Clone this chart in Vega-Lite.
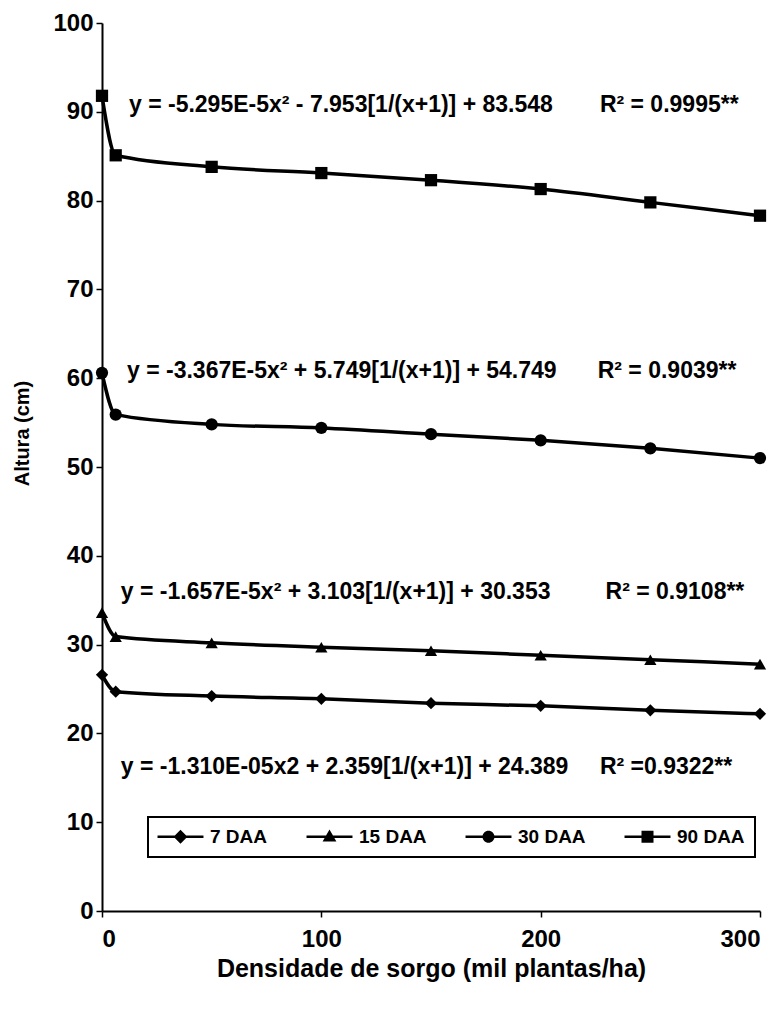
{
  "$schema": "https://vega.github.io/schema/vega-lite/v6.json",
  "width": 658,
  "height": 888,
  "autosize": {"type": "none"},
  "padding": {"left": 102, "top": 23, "right": 24, "bottom": 98},
  "background": "white",
  "config": {
    "view": {"stroke": null},
    "font": "Liberation Sans",
    "legend": {"strokeWidth": 2},
    "axis": {"grid": false, "domainColor": "black", "domainWidth": 2, "tickColor": "black", "tickWidth": 1.5, "tickSize": 6, "labelColor": "black", "titleColor": "black", "labelFont": "Liberation Sans", "titleFont": "Liberation Sans", "labelFontWeight": "bold", "titleFontWeight": "bold", "labelFontSize": 24, "titleFontSize": 20, "titleLimit": 1000},
    "axisX": {"titleFontSize": 25}
  },
  "datasets": {
    "obs": [
      {"serie": "90 DAA", "x": 0, "y": 91.8},
      {"serie": "90 DAA", "x": 6.25, "y": 85.1},
      {"serie": "90 DAA", "x": 50, "y": 83.8},
      {"serie": "90 DAA", "x": 100, "y": 83.1},
      {"serie": "90 DAA", "x": 150, "y": 82.3},
      {"serie": "90 DAA", "x": 200, "y": 81.3},
      {"serie": "90 DAA", "x": 250, "y": 79.8},
      {"serie": "90 DAA", "x": 300, "y": 78.3},
      {"serie": "30 DAA", "x": 0, "y": 60.6},
      {"serie": "30 DAA", "x": 6.25, "y": 55.9},
      {"serie": "30 DAA", "x": 50, "y": 54.8},
      {"serie": "30 DAA", "x": 100, "y": 54.4},
      {"serie": "30 DAA", "x": 150, "y": 53.7},
      {"serie": "30 DAA", "x": 200, "y": 53.0},
      {"serie": "30 DAA", "x": 250, "y": 52.1},
      {"serie": "30 DAA", "x": 300, "y": 51.0},
      {"serie": "15 DAA", "x": 0, "y": 33.6},
      {"serie": "15 DAA", "x": 6.25, "y": 30.9},
      {"serie": "15 DAA", "x": 50, "y": 30.2},
      {"serie": "15 DAA", "x": 100, "y": 29.7},
      {"serie": "15 DAA", "x": 150, "y": 29.3},
      {"serie": "15 DAA", "x": 200, "y": 28.8},
      {"serie": "15 DAA", "x": 250, "y": 28.3},
      {"serie": "15 DAA", "x": 300, "y": 27.8},
      {"serie": "7 DAA", "x": 0, "y": 26.6},
      {"serie": "7 DAA", "x": 6.25, "y": 24.7},
      {"serie": "7 DAA", "x": 50, "y": 24.2},
      {"serie": "7 DAA", "x": 100, "y": 23.9},
      {"serie": "7 DAA", "x": 150, "y": 23.4},
      {"serie": "7 DAA", "x": 200, "y": 23.1},
      {"serie": "7 DAA", "x": 250, "y": 22.6},
      {"serie": "7 DAA", "x": 300, "y": 22.2}
    ],
    "eq": [
      {"x": 12.3, "y": 90.8, "label": "y = -5.295E-5x² - 7.953[1/(x+1)] + 83.548"},
      {"x": 227, "y": 90.8, "label": "R² = 0.9995**"},
      {"x": 11.4, "y": 60.8, "label": "y = -3.367E-5x² + 5.749[1/(x+1)] + 54.749"},
      {"x": 226, "y": 60.8, "label": "R² = 0.9039**"},
      {"x": 8.6, "y": 35.9, "label": "y = -1.657E-5x² + 3.103[1/(x+1)] + 30.353"},
      {"x": 229.6, "y": 35.9, "label": "R² = 0.9108**"},
      {"x": 8.6, "y": 16.2, "label": "y = -1.310E-05x2 + 2.359[1/(x+1)] + 24.389"},
      {"x": 227, "y": 16.2, "label": "R² =0.9322**"}
    ]
  },
  "layer": [
    {
      "data": {"name": "obs"},
      "mark": {"type": "line", "color": "black", "strokeWidth": 3.5, "interpolate": "monotone"},
      "encoding": {
        "x": {"field": "x", "type": "quantitative", "scale": {"domain": [0, 300], "nice": false}, "axis": {"values": [0, 100, 200, 300], "title": "Densidade de sorgo (mil plantas/ha)", "titlePadding": 5, "labelPadding": 10}},
        "y": {"field": "y", "type": "quantitative", "scale": {"domain": [0, 100], "nice": false}, "axis": {"values": [0, 10, 20, 30, 40, 50, 60, 70, 80, 90, 100], "title": "Altura (cm)", "titleFontSize": 20, "titleLimit": 1000, "titleAngle": 270, "titleY": 410, "titlePadding": 20, "labelPadding": 3}},
        "detail": {"field": "serie"}
      }
    },
    {
      "data": {"name": "obs"},
      "mark": {"type": "point", "filled": true, "color": "black", "opacity": 1, "size": 150},
      "encoding": {
        "x": {"field": "x", "type": "quantitative"},
        "y": {"field": "y", "type": "quantitative"},
        "shape": {"field": "serie", "type": "nominal", "scale": {"domain": ["7 DAA", "15 DAA", "30 DAA", "90 DAA"], "range": ["diamond", "triangle-up", "circle", "square"]}, "legend": null}
      }
    },
    {
      "data": {"name": "obs"},
      "mark": {"type": "point", "filled": true, "color": "black", "opacity": 0},
      "encoding": {
        "x": {"field": "x", "type": "quantitative"},
        "y": {"field": "y", "type": "quantitative"},
        "shape": {"field": "serie", "type": "nominal", "scale": {"domain": ["7 DAA", "15 DAA", "30 DAA", "90 DAA"], "range": [
          "M-3.83,-0.22H3.83V0.22H-3.83ZM0,-1.15L1.15,0L0,1.15L-1.15,0Z",
          "M-3.83,-0.22H3.83V0.22H-3.83ZM0,-1.2L1.15,0.8L-1.15,0.8Z",
          "M-3.83,-0.22H3.83V0.22H-3.83ZM-1,0A1,1 0 1,1 1,0A1,1 0 1,1 -1,0Z",
          "M-3.83,-0.22H3.83V0.22H-3.83ZM-1,-1H1V1H-1Z"]},
          "legend": {"title": null, "orient": "none", "legendX": 46, "legendY": 794, "direction": "horizontal", "columns": 4, "symbolSize": 144, "symbolOpacity": 1, "symbolFillColor": "black", "symbolStrokeColor": "black", "symbolStrokeWidth": 1, "symbolOffset": 13, "labelOffset": 20, "labelFont": "Liberation Sans", "labelFontWeight": "bold", "labelFontSize": 19, "labelColor": "black", "columnPadding": 36, "padding": 10, "strokeColor": "black", "fillColor": "white",
            "encode": {"symbols": {"update": {"stroke": {"value": "black"}, "strokeWidth": {"value": 1}, "fill": {"value": "black"}, "opacity": {"value": 1}}}}}
        }
      }
    },
    {
      "data": {"name": "eq"},
      "mark": {"type": "text", "align": "left", "baseline": "middle", "font": "Liberation Sans", "fontWeight": "bold", "fontSize": 23, "color": "black"},
      "encoding": {
        "x": {"field": "x", "type": "quantitative"},
        "y": {"field": "y", "type": "quantitative"},
        "text": {"field": "label"}
      }
    }
  ],
  "resolve": {"scale": {"shape": "independent"}, "legend": {"shape": "independent"}}
}
